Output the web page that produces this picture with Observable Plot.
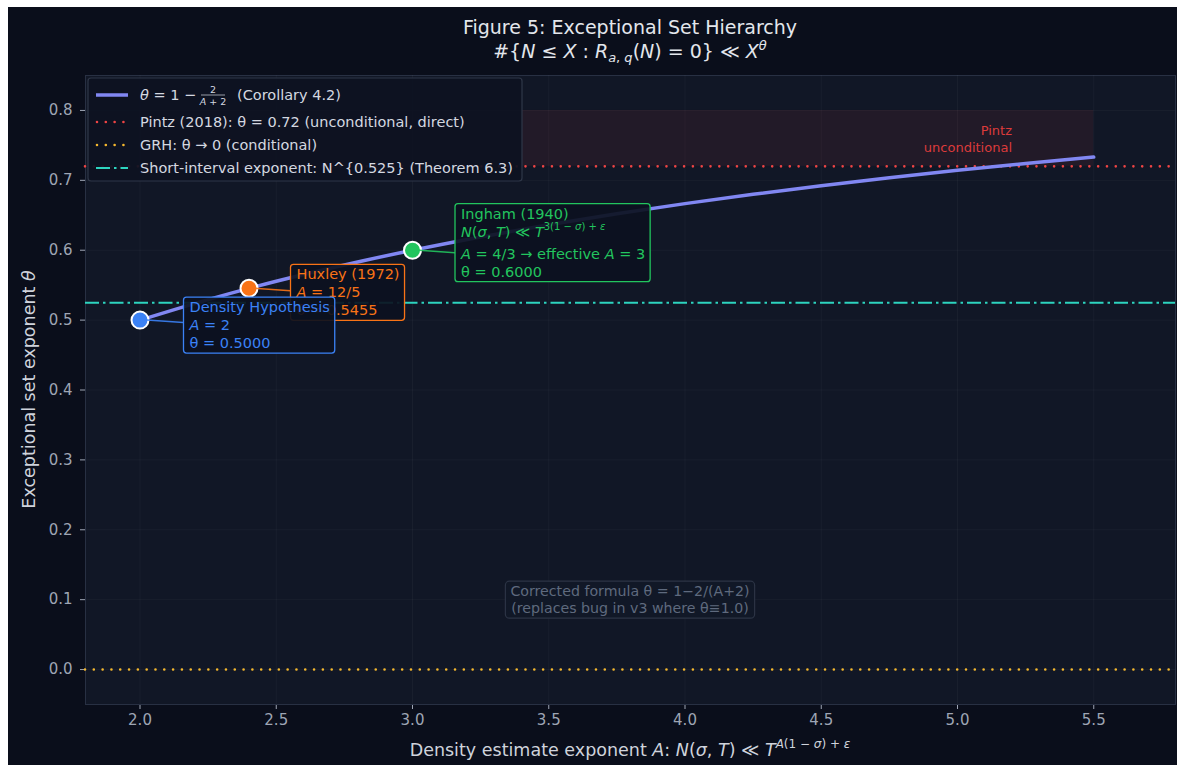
<!DOCTYPE html>
<html>
<head>
<meta charset="utf-8">
<script src="https://cdn.jsdelivr.net/npm/d3@7"></script>
<script src="https://cdn.jsdelivr.net/npm/@observablehq/plot@0.6"></script>
<style>
  html, body { margin: 0; padding: 0; background: #ffffff; }
  #fig {
    position: absolute; left: 8px; top: 7px; width: 1169px; height: 758px;
    background: #0a0e1b; overflow: hidden;
    font-family: "DejaVu Sans", sans-serif;
  }
  #title {
    position: absolute; left: 0; top: 8px; width: 1244px; text-align: center;
    color: #e3e6ec; font-size: 19px; line-height: 24px;
  }
  #title i { font-style: italic; }
  #title sub { font-size: 13px; vertical-align: -4px; line-height: 0; }
  #title sup { font-size: 13px; vertical-align: 8px; line-height: 0; }
  #chart { position: absolute; left: 0; top: 60px; }
</style>
</head>
<body>
<div id="fig">
  <div id="title">
    <div>Figure 5: Exceptional Set Hierarchy</div>
    <div>#{<i>N</i> ≤ <i>X</i> : <i>R</i><sub><i>a</i>, <i>q</i></sub>(<i>N</i>) = 0} ≪ <i>X</i><sup><i>θ</i></sup></div>
  </div>
  <div id="chart"></div>
</div>
<script>
// Corollary 4.2 curve: theta against the density exponent A
const curveA     = [2.0, 2.25, 2.5, 2.75, 3.0, 3.25, 3.5, 3.75, 4.0, 4.25, 4.5, 4.75, 5.0, 5.25, 5.5];
const curveTheta = [0.5, 0.5294, 0.5556, 0.5789, 0.6, 0.6190, 0.6364, 0.6522, 0.6667, 0.68, 0.6923, 0.7037, 0.7143, 0.7241, 0.7333];

// Classical density estimates
const refNames  = ["Density Hypothesis", "Huxley (1972)", "Ingham (1940)"];
const refA      = [2, 2.4, 3];
const refTheta  = [0.5, 0.5455, 0.6];
const refColors = ["#3b82f6", "#f97316", "#22c55e"];

// Reference levels
const pintzTheta = 0.72;
const grhTheta = 0;
const shortIntervalTheta = 0.525;
const pintzBandTheta = [0.72, 0.80];
const pintzBandA = [2, 5.5];

// Axis ticks
const xTicks = [2.0, 2.5, 3.0, 3.5, 4.0, 4.5, 5.0, 5.5];
const yTicks = [0.0, 0.1, 0.2, 0.3, 0.4, 0.5, 0.6, 0.7, 0.8];

const curve = curveA.map((a, i) => ({A: a, theta: curveTheta[i]}));
const refs = refNames.map((n, i) => ({name: n, A: refA[i], theta: refTheta[i], color: refColors[i]}));

const CURVE = "#8187f2", RED = "#ef4444", YELLOW = "#f5b82e", TEAL = "#2dd4bf";

const plot = Plot.plot({
  width: 1169,
  height: 698,
  marginTop: 8,
  marginBottom: 61,
  marginLeft: 77,
  marginRight: 2,
  style: {background: "transparent", color: "#9ea5b4", fontSize: "15px", fontFamily: "DejaVu Sans, sans-serif"},
  x: {domain: [1.8, 5.8], ticks: xTicks, tickFormat: d3.format(".1f"), tickSize: 5, tickPadding: 5, label: null},
  y: {domain: [-0.05, 0.85], ticks: yTicks, tickFormat: d3.format(".1f"), tickSize: 5, tickPadding: 8, label: null},
  color: {type: "identity"},
  marks: [
    Plot.frame({fill: "#111726", stroke: "#283043"}),
    Plot.ruleX(xTicks, {stroke: "#ffffff", strokeOpacity: 0.035}),
    Plot.ruleY(yTicks, {stroke: "#ffffff", strokeOpacity: 0.035}),
    Plot.rect([{a1: pintzBandA[0], a2: pintzBandA[1], t1: pintzBandTheta[0], t2: pintzBandTheta[1]}],
      {x1: "a1", x2: "a2", y1: "t1", y2: "t2", fill: RED, fillOpacity: 0.08}),
    Plot.text(["Pintz\nunconditional"], {x: 5.2, y: 0.74, text: d => d, textAnchor: "end", lineAnchor: "bottom",
      lineHeight: 1.3, fill: "#dc3b3b", fontSize: 13}),
    Plot.ruleY([grhTheta], {stroke: YELLOW, strokeWidth: 2.6, strokeDasharray: "0.01,8.8", strokeLinecap: "round"}),
    Plot.ruleY([shortIntervalTheta], {stroke: TEAL, strokeWidth: 2, strokeDasharray: "14,4,2.5,4"}),
    Plot.ruleY([pintzTheta], {stroke: RED, strokeWidth: 2.6, strokeDasharray: "0.01,8.8", strokeLinecap: "round"}),
    Plot.line(curve, {x: "A", y: "theta", stroke: CURVE, strokeWidth: 3.5, curve: "monotone-x"}),
    Plot.dot(refs, {x: "A", y: "theta", r: 8.5, fill: "color", stroke: "#ffffff", strokeWidth: 2, fillOpacity: 1})
  ]
});

document.getElementById("chart").appendChild(plot);

const x = plot.scale("x"), y = plot.scale("y");
const svg = d3.select(plot);
const FONT = "DejaVu Sans, sans-serif";

// Write a run of styled pieces into a <text> element.
// Each piece: [string, flags] with flags among "i" (italic), "sup" (superscript)
function rich(textSel, parts, baseSize) {
  let shifted = 0;
  parts.forEach(([s, flags = ""]) => {
    const ts = textSel.append("tspan").text(s);
    if (flags.includes("i")) ts.attr("font-style", "italic");
    const want = flags.includes("sup") ? -Math.round(baseSize * 0.45) : 0;
    if (want !== shifted) { ts.attr("dy", want - shifted); shifted = want; }
    if (flags.includes("sup")) ts.attr("font-size", Math.round(baseSize * 0.68));
  });
  return textSel;
}

// Axis titles
rich(svg.append("text")
  .attr("x", (77 + 1167) / 2).attr("y", 689)
  .attr("text-anchor", "middle").attr("font-family", FONT).attr("font-size", 17.5).attr("fill", "#cfd3dc"),
  [["Density estimate exponent "], ["A", "i"], [": "], ["N", "i"], ["("], ["σ", "i"], [", "], ["T", "i"], [") ≪ "], ["T", "i"],
   ["A", "i sup"], ["(1 − ", "sup"], ["σ", "i sup"], [") + ", "sup"], ["ε", "i sup"]], 17.5);

rich(svg.append("text")
  .attr("transform", `translate(22, ${(8 + 637) / 2}) rotate(-90)`)
  .attr("text-anchor", "middle").attr("dominant-baseline", "middle")
  .attr("font-family", FONT).attr("font-size", 17.5).attr("fill", "#cfd3dc"),
  [["Exceptional set exponent "], ["θ", "i"]], 17.5);

// Callout boxes for the classical estimates
const notes = svg.append("g").attr("font-family", FONT).attr("font-size", 14.5).attr("text-anchor", "start");

function callout(ref, dx, dy, lineOffsets, lines) {
  const px = x.apply(ref.A), py = y.apply(ref.theta);
  const g = notes.append("g");
  const link = g.append("line").attr("stroke", ref.color).attr("stroke-width", 1.5).attr("stroke-opacity", 0.9);
  const box = g.append("rect").attr("rx", 3).attr("fill", "#0c1120").attr("fill-opacity", 0.92)
    .attr("stroke", ref.color).attr("stroke-width", 1.3);
  const tg = g.append("g").attr("fill", ref.color);
  lines.forEach((parts, i) => {
    rich(tg.append("text").attr("x", px + dx).attr("y", py + dy + lineOffsets[i]), parts, 14.5);
  });
  const bb = tg.node().getBBox();
  const padX = 5, padY = 2;
  box.attr("x", bb.x - padX).attr("y", bb.y - padY)
     .attr("width", bb.width + 2 * padX).attr("height", bb.height + 2 * padY);
  link.attr("x1", px).attr("y1", py).attr("x2", bb.x - padX).attr("y2", py + 3);
}

callout(refs[1], 48, -8.5, [0, 18, 36], [
  [["Huxley (1972)"]],
  [["A", "i"], [" = 12/5"]],
  [["θ = 0.5455"]]
]);
callout(refs[0], 50, -7.5, [0, 18, 36], [
  [["Density Hypothesis"]],
  [["A", "i"], [" = 2"]],
  [["θ = 0.5000"]]
]);
callout(refs[2], 49, -31, [0, 18, 40, 58], [
  [["Ingham (1940)"]],
  [["N", "i"], ["("], ["σ", "i"], [", "], ["T", "i"], [") ≪ "], ["T", "i"], ["3(1 − ", "sup"], ["σ", "i sup"], [") + ", "sup"], ["ε", "i sup"]],
  [["A", "i"], [" = 4/3 → effective "], ["A", "i"], [" = 3"]],
  [["θ = 0.6000"]]
]);

// Note about the corrected formula
{
  const cx = x.apply(3.8), cy = y.apply(0.1);
  const g = svg.append("g").attr("font-family", FONT).attr("font-size", 14.2);
  const box = g.append("rect").attr("rx", 4).attr("fill", "#111827").attr("stroke", "#2c3445").attr("stroke-width", 1.2);
  const tg = g.append("g").attr("fill", "#5f6a7e").attr("text-anchor", "middle");
  tg.append("text").attr("x", cx).attr("y", cy - 3).text("Corrected formula θ = 1−2/(A+2)");
  tg.append("text").attr("x", cx).attr("y", cy + 14).text("(replaces bug in v3 where θ≡1.0)");
  const bb = tg.node().getBBox();
  box.attr("x", bb.x - 5).attr("y", bb.y - 2).attr("width", bb.width + 10).attr("height", bb.height + 4);
}

// Legend
{
  const FS = 14.5;
  const g = svg.append("g").attr("font-family", FONT).attr("font-size", FS).attr("fill", "#d4d8e0").attr("text-anchor", "start");
  g.append("rect").attr("x", 80).attr("y", 11).attr("width", 434).attr("height", 103).attr("rx", 3)
    .attr("fill", "#0d1221").attr("fill-opacity", 0.93).attr("stroke", "#2f3748").attr("stroke-width", 1.2);
  const sx1 = 88, sx2 = 120, tx = 132;
  const rows = [28, 55, 78, 101];
  // Corollary 4.2 curve
  g.append("line").attr("x1", sx1).attr("x2", sx2).attr("y1", rows[0]).attr("y2", rows[0])
    .attr("stroke", CURVE).attr("stroke-width", 3.5);
  rich(g.append("text").attr("x", tx).attr("y", rows[0] + 5), [["θ", "i"], [" = 1 − "]], FS);
  const fx = 205;
  g.append("text").attr("x", fx).attr("y", rows[0] - 2).attr("text-anchor", "middle").attr("font-size", 9.5).text("2");
  g.append("line").attr("x1", fx - 12).attr("x2", fx + 12).attr("y1", rows[0]).attr("y2", rows[0])
    .attr("stroke", "#d4d8e0").attr("stroke-width", 0.7);
  rich(g.append("text").attr("x", fx).attr("y", rows[0] + 9.5).attr("text-anchor", "middle").attr("font-size", 9.5),
    [["A", "i"], [" + 2"]], 9.5);
  g.append("text").attr("x", 229).attr("y", rows[0] + 5).text("(Corollary 4.2)");
  // Pintz
  g.append("line").attr("x1", sx1 + 1).attr("x2", sx2).attr("y1", rows[1]).attr("y2", rows[1])
    .attr("stroke", RED).attr("stroke-width", 2.6).attr("stroke-dasharray", "0.01,8.8").attr("stroke-linecap", "round");
  g.append("text").attr("x", tx).attr("y", rows[1] + 5).text("Pintz (2018): θ = 0.72 (unconditional, direct)");
  // GRH
  g.append("line").attr("x1", sx1 + 1).attr("x2", sx2).attr("y1", rows[2]).attr("y2", rows[2])
    .attr("stroke", YELLOW).attr("stroke-width", 2.6).attr("stroke-dasharray", "0.01,8.8").attr("stroke-linecap", "round");
  g.append("text").attr("x", tx).attr("y", rows[2] + 5).text("GRH: θ → 0 (conditional)");
  // Short-interval exponent
  g.append("line").attr("x1", sx1).attr("x2", sx2).attr("y1", rows[3]).attr("y2", rows[3])
    .attr("stroke", TEAL).attr("stroke-width", 2).attr("stroke-dasharray", "14,4,2.5,4");
  g.append("text").attr("x", tx).attr("y", rows[3] + 5).text("Short-interval exponent: N^{0.525} (Theorem 6.3)");
}
</script>
</body>
</html>
